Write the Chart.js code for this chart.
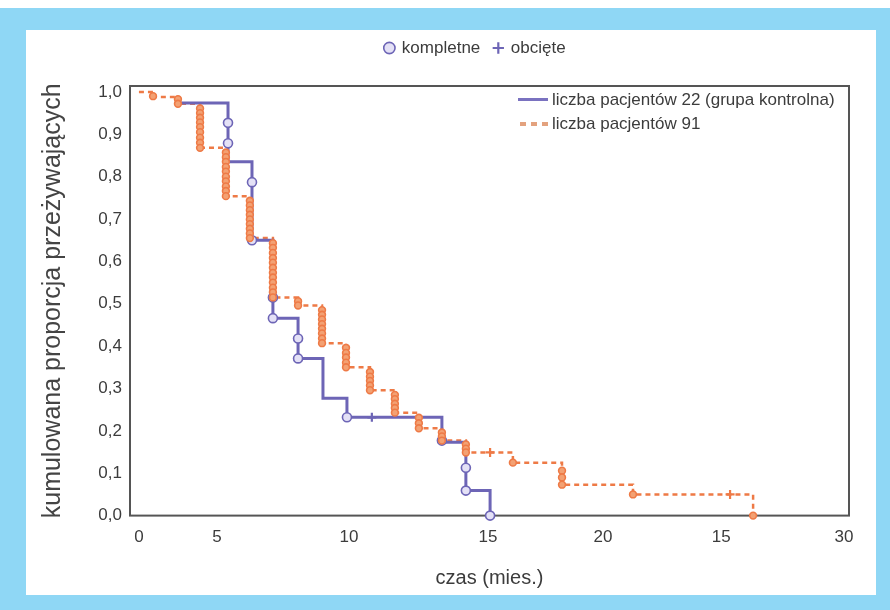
<!DOCTYPE html>
<html>
<head>
<meta charset="utf-8">
<script src="https://cdn.jsdelivr.net/npm/chart.js@4/dist/chart.umd.min.js"></script>
<style>
  html, body { margin: 0; padding: 0; width: 890px; height: 610px; overflow: hidden; background: #fff; }
  #frame { position: absolute; left: 0; top: 8px; width: 890px; height: 602px; background: #8fd7f5; }
  #panel { position: absolute; left: 26px; top: 30px; width: 850px; height: 565px; background: #fff; }
  #wrap { position: absolute; left: 38px; top: 0; width: 875px; height: 610px; }
  #lines-legend { position: absolute; left: 518px; top: 88px; font: 17px "Liberation Sans", Arial, sans-serif; color: #3c3c3c; }
  .row { position: relative; height: 24px; line-height: 24px; padding-left: 34px; white-space: nowrap; }
  .swatch { position: absolute; left: 0; top: 10px; width: 30px; height: 3px; }
  .swatch.solid { background: #7a72c0; }
  .swatch.dash { left: 2px; width: 28px; height: 4px; background: repeating-linear-gradient(to right, #e3a27e 0 6px, transparent 6px 11px); }
</style>
</head>
<body>
<div id="frame"></div>
<div id="panel"></div>
<div id="wrap"><canvas id="km" width="875" height="610"></canvas></div>
<div id="lines-legend">
  <div class="row"><span class="swatch solid"></span>liczba pacjentów 22 (grupa kontrolna)</div>
  <div class="row"><span class="swatch dash"></span>liczba pacjentów 91</div>
</div>
<script>
// Axis ticks (positions in plot units, labels as printed on the figure).
const xTickValues = [0, 3.32, 8.94, 14.85, 19.74, 24.77, 30];
const xTickLabels = ['0', '5', '10', '15', '20', '15', '30'];
const yTickValues = [0, 0.1, 0.2, 0.3, 0.4, 0.5, 0.6, 0.7, 0.8, 0.9, 1.0];

// Control group (22 patients): step corners.
const blueX = [1.74, 3.79, 4.81, 5.70, 6.77, 7.83, 8.85, 12.89, 13.91, 14.94];
const blueY = [0.974, 0.835, 0.650, 0.466, 0.371, 0.277, 0.232, 0.173, 0.059, 0.0];
// Control group: complete (event) and censored points.
const blueEventX = [3.79, 3.79, 4.81, 4.81, 5.70, 5.70, 6.77, 6.77, 8.85, 12.89, 13.91, 13.91, 14.94];
const blueEventY = [0.927, 0.879, 0.787, 0.650, 0.515, 0.466, 0.418, 0.371, 0.232, 0.177, 0.113, 0.059, 0.0];
const blueCensX = [9.91];
const blueCensY = [0.232];

// Group of 91 patients: step corners.
const orangeX = [0, 0.60, 1.66, 2.60, 3.70, 4.72, 5.70, 6.77, 7.79, 8.81, 9.83, 10.89, 11.91, 12.89, 13.91, 15.91, 18.00, 21.02, 26.13];
const orangeY = [1.0, 0.988, 0.972, 0.868, 0.754, 0.655, 0.515, 0.496, 0.407, 0.350, 0.296, 0.243, 0.206, 0.177, 0.149, 0.125, 0.073, 0.050, 0.0];
// Group of 91: events stacked at each time.
const orangeEventTimes = [0.60, 1.66, 2.60, 3.70, 4.72, 5.70, 6.77, 7.79, 8.81, 9.83, 10.89, 11.91, 12.89, 13.91, 15.91, 18.00, 21.02, 26.13];
const orangeEventLevels = [
  [0.990],
  [0.983, 0.972],
  [0.961, 0.950, 0.939, 0.928, 0.917, 0.905, 0.892, 0.880, 0.868],
  [0.857, 0.846, 0.835, 0.823, 0.812, 0.800, 0.789, 0.777, 0.766, 0.754],
  [0.743, 0.732, 0.721, 0.710, 0.699, 0.688, 0.677, 0.666, 0.655],
  [0.643, 0.632, 0.620, 0.608, 0.597, 0.585, 0.573, 0.562, 0.550, 0.538, 0.527, 0.515],
  [0.506, 0.496],
  [0.485, 0.474, 0.463, 0.452, 0.441, 0.430, 0.418, 0.407],
  [0.396, 0.384, 0.373, 0.361, 0.350],
  [0.339, 0.328, 0.318, 0.307, 0.296],
  [0.285, 0.275, 0.264, 0.254, 0.243],
  [0.231, 0.218, 0.206],
  [0.196, 0.187, 0.177],
  [0.168, 0.158, 0.149],
  [0.125],
  [0.106, 0.090, 0.073],
  [0.050],
  [0.0]
];
const orangeCensX = [14.94, 25.15];
const orangeCensY = [0.149, 0.050];

const purple = '#6d65b6';
const orange = '#ee7a46';

Chart.defaults.font.family = '"Liberation Sans", Arial, sans-serif';
Chart.defaults.color = '#3c3c3c';

// Points for the two marker datasets.
const eventPts = [], eventBorder = [], eventFill = [], eventRadius = [];
blueEventX.forEach((x, i) => {
  eventPts.push({x: x, y: blueEventY[i]});
  eventBorder.push(purple); eventFill.push('#e4e1f6'); eventRadius.push(4.5);
});
orangeEventTimes.forEach((t, i) => {
  orangeEventLevels[i].forEach(y => {
    eventPts.push({x: t, y: y});
    eventBorder.push(orange); eventFill.push('#f3a173'); eventRadius.push(3.4);
  });
});

const censPts = [], censColor = [];
blueCensX.forEach((x, i) => { censPts.push({x: x, y: blueCensY[i]}); censColor.push(purple); });
orangeCensX.forEach((x, i) => { censPts.push({x: x, y: orangeCensY[i]}); censColor.push(orange); });

const bluePts = blueX.map((x, i) => ({x: x, y: blueY[i]}));
const orangePts = orangeX.map((x, i) => ({x: x, y: orangeY[i]}));

// Frame around the plot area.
const plotFrame = {
  id: 'plotFrame',
  beforeDatasetsDraw(chart) {
    const {ctx, chartArea: a} = chart;
    ctx.save();
    ctx.strokeStyle = '#555';
    ctx.lineWidth = 2;
    ctx.strokeRect(a.left, a.top, a.right - a.left, a.bottom - a.top);
    ctx.restore();
  }
};

// Extra space under the top legend.
const legendGap = {
  id: 'legendGap',
  beforeInit(chart) {
    const fit = chart.legend.fit;
    chart.legend.fit = function () {
      fit.call(this);
      this.height += 19.5;
    };
  }
};

new Chart(document.getElementById('km'), {
  type: 'line',
  data: {
    datasets: [
      {
        label: 'kompletne',
        data: eventPts,
        showLine: false,
        pointStyle: 'circle',
        pointRadius: eventRadius,
        pointBorderColor: eventBorder,
        pointBackgroundColor: eventFill,
        pointBorderWidth: 1.6,
        clip: false
      },
      {
        label: 'obcięte',
        data: censPts,
        showLine: false,
        pointStyle: 'cross',
        pointRadius: 4.5,
        pointBorderColor: censColor,
        pointBackgroundColor: censColor,
        pointBorderWidth: 2.2,
        clip: false
      },
      {
        label: 'liczba pacjentów 22 (grupa kontrolna)',
        data: bluePts,
        borderColor: purple,
        borderWidth: 3,
        stepped: true,
        pointRadius: 0,
        fill: false
      },
      {
        label: 'liczba pacjentów 91',
        data: orangePts,
        borderColor: orange,
        borderWidth: 2.5,
        borderDash: [5, 4],
        stepped: true,
        pointRadius: 0,
        fill: false
      }
    ]
  },
  options: {
    responsive: false,
    animation: false,
    events: [],
    layout: { padding: { top: 25.5, bottom: 20, left: 0, right: 0 } },
    plugins: {
      tooltip: { enabled: false },
      legend: {
        position: 'top',
        labels: {
          filter: item => item.datasetIndex < 2,
          usePointStyle: true,
          boxWidth: 8,
          boxHeight: 8,
          padding: 14,
          font: { size: 17 },
          color: '#3c3c3c'
        }
      }
    },
    scales: {
      x: {
        type: 'linear',
        min: -0.38,
        max: 30.21,
        grid: { display: false, drawTicks: false },
        border: { display: false },
        afterBuildTicks: s => { s.ticks = xTickValues.map(v => ({value: v})); },
        afterFit: s => { s.paddingRight = 64; },
        ticks: {
          callback: (v, i) => xTickLabels[i],
          autoSkip: false,
          maxRotation: 0,
          padding: 12,
          font: { size: 17 }
        },
        title: {
          display: true,
          text: 'czas (mies.)',
          font: { size: 20 },
          padding: { top: 6, bottom: 0 }
        }
      },
      y: {
        min: 0,
        max: 1.014,
        grid: { display: false, drawTicks: false },
        border: { display: false },
        afterBuildTicks: s => { s.ticks = yTickValues.map(v => ({value: v})); },
        afterFit: s => { s.width = 92; },
        ticks: {
          callback: v => v.toFixed(1).replace('.', ','),
          padding: 8,
          font: { size: 17 }
        },
        title: {
          display: true,
          text: 'kumulowana proporcja przeżywających',
          font: { size: 25 },
          color: '#444',
          padding: { top: 0, bottom: 0 }
        }
      }
    }
  },
  plugins: [plotFrame, legendGap]
});
</script>
</body>
</html>
